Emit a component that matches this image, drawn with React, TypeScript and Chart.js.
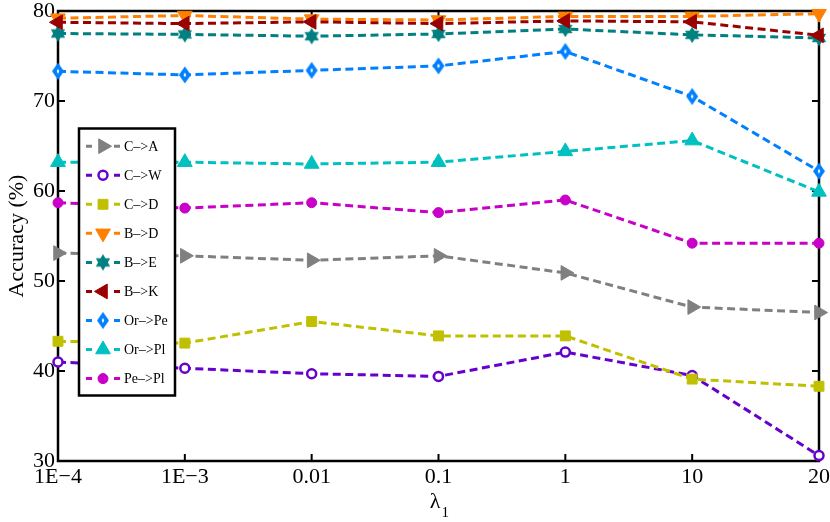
import React, { useEffect, useRef } from 'react';
import { Chart, registerables } from 'chart.js';
import { drawPoint } from 'chart.js/helpers';

Chart.register(...registerables);

// ---- data ----
const lambdaLabels = ['1E\u22124', '1E\u22123', '0.01', '0.1', '1', '10', '20'];
const seriesNames = ['C\u2013>A', 'C\u2013>W', 'C\u2013>D', 'B\u2013>D', 'B\u2013>E', 'B\u2013>K', 'Or\u2013>Pe', 'Or\u2013>Pl', 'Pe\u2013>Pl'];
const caValues = [53.1, 52.8, 52.3, 52.8, 50.9, 47.1, 46.5];
const cwValues = [41.0, 40.3, 39.7, 39.4, 42.1, 39.5, 30.6];
const cdValues = [43.3, 43.1, 45.5, 43.9, 43.9, 39.1, 38.3];
const bdValues = [79.2, 79.5, 79.1, 79.0, 79.4, 79.4, 79.7];
const beValues = [77.5, 77.4, 77.2, 77.45, 78.0, 77.35, 77.0];
const bkValues = [78.75, 78.6, 78.8, 78.6, 78.9, 78.8, 77.3];
const orPeValues = [73.3, 72.9, 73.4, 73.9, 75.5, 70.5, 62.2];
const orPlValues = [63.2, 63.2, 63.0, 63.2, 64.4, 65.6, 59.9];
const pePlValues = [58.7, 58.1, 58.7, 57.6, 59.0, 54.2, 54.2];
const yMin = 30;
const yMax = 80;
const yStep = 10;

const allValues = [caValues, cwValues, cdValues, bdValues, beValues, bkValues, orPeValues, orPlValues, pePlValues];
const colors = ['#808080', '#6600cc', '#c0c000', '#ff8000', '#008080', '#990000', '#0080ff', '#00c0c0', '#c800c8'];

const SERIF = "'Liberation Serif', 'Times New Roman', serif";

function makeHexagram(color: string): HTMLCanvasElement {
  const c = document.createElement('canvas');
  c.width = 18; c.height = 18;
  const g = c.getContext('2d')!;
  g.fillStyle = color; g.strokeStyle = color; g.lineWidth = 1;
  const r = 7.5;
  for (const off of [0, Math.PI]) {
    g.beginPath();
    for (let k = 0; k < 3; k++) {
      const a = off - Math.PI / 2 + k * (2 * Math.PI / 3);
      const px = 9 + r * Math.cos(a), py = 9 + r * Math.sin(a);
      if (k === 0) g.moveTo(px, py); else g.lineTo(px, py);
    }
    g.closePath(); g.fill(); g.stroke();
  }
  return c;
}

function makeDiamond(color: string): HTMLCanvasElement {
  const c = document.createElement('canvas');
  c.width = 14; c.height = 20;
  const g = c.getContext('2d')!;
  g.fillStyle = color;
  g.beginPath();
  g.moveTo(7, 1.5); g.lineTo(13, 10); g.lineTo(7, 18.5); g.lineTo(1, 10); g.closePath();
  g.fill();
  g.fillStyle = '#ffffff';
  g.beginPath();
  g.moveTo(7, 7.5); g.lineTo(8.3, 10); g.lineTo(7, 12.5); g.lineTo(5.7, 10); g.closePath();
  g.fill();
  return c;
}

const framePlugin = {
  id: 'matlabFrame',
  beforeDatasetsDraw(chart: any) {
    const { ctx, chartArea: a, scales } = chart;
    ctx.save();
    ctx.setLineDash([]);
    ctx.strokeStyle = '#000';
    ctx.lineWidth = 2.5;
    ctx.strokeRect(a.left, a.top, a.right - a.left, a.bottom - a.top);
    ctx.beginPath();
    const xs = scales.x, ys = scales.y;
    xs.ticks.forEach((_: any, i: number) => {
      const px = xs.getPixelForTick(i);
      ctx.moveTo(px, a.bottom); ctx.lineTo(px, a.bottom - 7);
      ctx.moveTo(px, a.top); ctx.lineTo(px, a.top + 7);
    });
    ys.ticks.forEach((_: any, i: number) => {
      const py = ys.getPixelForTick(i);
      ctx.moveTo(a.left, py); ctx.lineTo(a.left + 7, py);
      ctx.moveTo(a.right, py); ctx.lineTo(a.right - 7, py);
    });
    ctx.lineWidth = 2;
    ctx.stroke();
    ctx.restore();
  },
  afterDatasetsDraw(chart: any) {
    const { ctx, chartArea: a } = chart;
    const ds = chart.data.datasets;
    ctx.save();
    // legend box
    const bx = a.left + 21, by = a.top + 117.5, bw = 96, bh = 267;
    ctx.setLineDash([]);
    ctx.fillStyle = '#fff';
    ctx.fillRect(bx, by, bw, bh);
    ctx.strokeStyle = '#000';
    ctx.lineWidth = 2.5;
    ctx.strokeRect(bx, by, bw, bh);
    ds.forEach((d: any, i: number) => {
      const y = by + 17.7 + i * 29.05;
      ctx.strokeStyle = d.borderColor;
      ctx.lineWidth = 3;
      ctx.setLineDash([6, 22]);
      ctx.beginPath();
      ctx.moveTo(bx + 7, y); ctx.lineTo(bx + 41, y);
      ctx.stroke();
      ctx.setLineDash([]);
      ctx.fillStyle = d.pointBackgroundColor;
      ctx.strokeStyle = d.pointBorderColor;
      ctx.lineWidth = d.pointBorderWidth;
      drawPoint(ctx, {
        pointStyle: d.pointStyle,
        radius: d.pointRadius,
        rotation: d.pointRotation || 0,
        borderWidth: d.pointBorderWidth,
      } as any, bx + 24, y);
      ctx.fillStyle = '#000';
      ctx.font = `14px ${SERIF}`;
      ctx.textAlign = 'left';
      ctx.textBaseline = 'middle';
      ctx.fillText(d.label, bx + 45, y + 1);
    });
    ctx.restore();
  },
  afterDraw(chart: any) {
    const { ctx, chartArea: a } = chart;
    ctx.save();
    ctx.fillStyle = '#000';
    // y title
    ctx.font = `22px ${SERIF}`;
    ctx.translate(23, (a.top + a.bottom) / 2);
    ctx.rotate(-Math.PI / 2);
    ctx.textAlign = 'center';
    ctx.textBaseline = 'alphabetic';
    ctx.fillText('Accuracy (%)', 0, 0);
    ctx.restore();
    // x title lambda_1
    ctx.save();
    ctx.fillStyle = '#000';
    const cx = (a.left + a.right) / 2;
    ctx.font = `22px ${SERIF}`;
    ctx.textAlign = 'right';
    ctx.textBaseline = 'alphabetic';
    ctx.fillText('\u03bb', cx + 2, 508);
    ctx.font = `15px ${SERIF}`;
    ctx.textAlign = 'left';
    ctx.fillText('1', cx + 3, 517);
    ctx.restore();
  },
};

export default function App() {
  const ref = useRef<HTMLCanvasElement | null>(null);
  useEffect(() => {
    document.body.style.margin = '0';
    const hex = makeHexagram(colors[4]);
    const dia = makeDiamond(colors[6]);
    const styles: any[] = [
      { pointStyle: 'triangle', pointRotation: 90, pointRadius: 8.5, bg: colors[0], bw: 1 },
      { pointStyle: 'circle', pointRotation: 0, pointRadius: 4.5, bg: '#ffffff', bw: 2.5 },
      { pointStyle: 'rect', pointRotation: 0, pointRadius: 7, bg: colors[2], bw: 1 },
      { pointStyle: 'triangle', pointRotation: 180, pointRadius: 8.5, bg: colors[3], bw: 1 },
      { pointStyle: hex, pointRotation: 0, pointRadius: 8, bg: colors[4], bw: 1 },
      { pointStyle: 'triangle', pointRotation: 270, pointRadius: 8.5, bg: colors[5], bw: 1 },
      { pointStyle: dia, pointRotation: 0, pointRadius: 8, bg: colors[6], bw: 1 },
      { pointStyle: 'triangle', pointRotation: 0, pointRadius: 8.5, bg: colors[7], bw: 1 },
      { pointStyle: 'circle', pointRotation: 0, pointRadius: 5, bg: colors[8], bw: 1 },
    ];
    const datasets = allValues.map((vals, i) => ({
      label: seriesNames[i],
      data: vals,
      borderColor: colors[i],
      backgroundColor: colors[i],
      borderWidth: 3,
      borderDash: [8, 4.5],
      tension: 0,
      fill: false,
      clip: false,
      order: allValues.length - i,
      pointStyle: styles[i].pointStyle,
      pointRotation: styles[i].pointRotation,
      pointRadius: styles[i].pointRadius,
      pointHoverRadius: styles[i].pointRadius,
      pointBackgroundColor: styles[i].bg,
      pointBorderColor: colors[i],
      pointBorderWidth: styles[i].bw,
    }));
    const chart = new Chart(ref.current!, {
      type: 'line',
      data: { labels: lambdaLabels, datasets },
      options: {
        animation: false,
        responsive: false,
        devicePixelRatio: window.devicePixelRatio || 1,
        layout: { padding: { top: 11, right: 11, left: 0, bottom: 0 } },
        plugins: { legend: { display: false }, tooltip: { enabled: false }, title: { display: false } },
        scales: {
          x: {
            type: 'category',
            offset: false,
            grid: { display: false, drawTicks: false },
            border: { display: false },
            ticks: {
              color: '#000',
              font: { family: SERIF, size: 22 },
              maxRotation: 0,
              autoSkip: false,
              padding: 3,
            },
            afterFit: (s: any) => { s.height = 61; s.paddingLeft = 0; s.paddingRight = 0; },
          },
          y: {
            min: yMin,
            max: yMax,
            grid: { display: false, drawTicks: false },
            border: { display: false },
            ticks: {
              stepSize: yStep,
              color: '#000',
              font: { family: SERIF, size: 22 },
              padding: 3,
            },
            afterFit: (s: any) => { s.width = 58; s.paddingTop = 0; s.paddingBottom = 0; },
          },
        },
      },
      plugins: [framePlugin],
    } as any);
    return () => chart.destroy();
  }, []);
  return (
    <div style={{ width: 830, height: 522 }}>
      <canvas ref={ref} width={830} height={522} style={{ display: 'block' }} />
    </div>
  );
}
